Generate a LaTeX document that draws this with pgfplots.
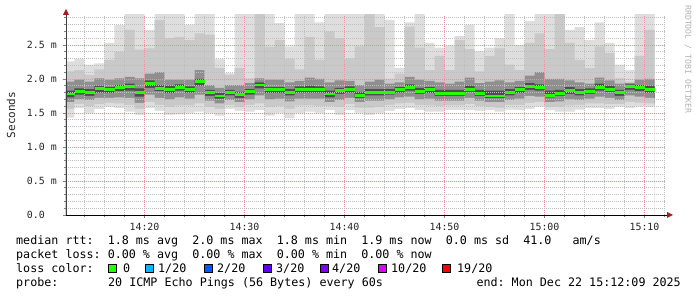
\documentclass[border=0pt]{standalone}
\usepackage{fontspec}
\setmonofont{DejaVu Sans Mono}
\usepackage{pgfplots}
\pgfplotsset{compat=1.18}
\usepackage{pgfplotstable}
\definecolor{Lone}{HTML}{DEDEDE}
\definecolor{Ltwo}{HTML}{C9C9C9}
\definecolor{Lthree}{HTML}{8F8F8F}
\definecolor{Lfour}{HTML}{4D4D4D}
\definecolor{medgreen}{RGB}{38,255,0}
\definecolor{gridred}{RGB}{230,150,150}
\definecolor{gridgray}{RGB}{190,190,190}
\definecolor{arrowred}{RGB}{160,32,32}
\definecolor{lossA}{HTML}{26FF00}
\definecolor{lossB}{HTML}{00B8FF}
\definecolor{lossC}{HTML}{0059FF}
\definecolor{lossD}{HTML}{5E00FF}
\definecolor{lossE}{HTML}{7E00FF}
\definecolor{lossF}{HTML}{DD00FF}
\definecolor{lossG}{HTML}{FF0000}
\newcommand\legfont{\ttfamily\fontsize{11.7}{14}\selectfont}
\newcommand\tickfont{\ttfamily\fontsize{9.9}{12}\selectfont}

\pgfplotstableread{
x  min  p10  p25  p40  med  p60  p75  p90  max
12 1.43 1.56 1.66 1.73 1.78 1.83 1.96 2.11 2.26
13 1.57 1.63 1.70 1.77 1.81 1.86 1.99 2.13 2.30
14 1.50 1.60 1.69 1.75 1.80 1.85 1.96 2.06 2.21
15 1.56 1.63 1.72 1.80 1.86 1.90 2.01 2.14 2.23
16 1.59 1.65 1.72 1.79 1.84 1.88 1.99 2.28 2.53
17 1.57 1.64 1.73 1.82 1.87 1.91 2.01 2.40 2.79
18 1.52 1.62 1.72 1.83 1.89 1.93 2.03 2.72 3.10
19 1.47 1.56 1.65 1.74 1.80 1.86 2.01 2.43 3.10
20 1.57 1.66 1.77 1.87 1.93 1.98 2.08 2.45 2.72
21 1.53 1.62 1.72 1.82 1.86 1.91 2.10 2.87 3.10
22 1.47 1.59 1.70 1.79 1.85 1.90 1.99 2.60 3.10
23 1.48 1.61 1.73 1.83 1.88 1.92 1.99 2.62 3.10
24 1.50 1.61 1.71 1.80 1.85 1.89 1.99 2.57 2.80
25 1.52 1.64 1.77 1.90 1.96 2.00 2.13 2.67 3.10
26 1.50 1.59 1.68 1.75 1.80 1.84 1.91 2.65 3.10
27 1.46 1.56 1.64 1.71 1.75 1.79 1.87 2.16 2.29
28 1.56 1.62 1.69 1.76 1.80 1.84 1.91 2.06 2.09
29 1.53 1.59 1.66 1.72 1.77 1.81 1.91 2.16 3.10
30 1.52 1.62 1.70 1.77 1.81 1.85 1.94 2.01 3.10
31 1.54 1.64 1.76 1.86 1.91 1.95 2.01 3.00 3.10
32 1.46 1.59 1.70 1.79 1.84 1.88 1.99 2.47 3.10
33 1.50 1.60 1.71 1.79 1.84 1.88 1.99 2.57 2.82
34 1.42 1.56 1.67 1.76 1.80 1.85 1.95 2.30 2.48
35 1.50 1.61 1.71 1.80 1.85 1.89 1.97 2.14 3.10
36 1.52 1.61 1.71 1.80 1.85 1.90 2.02 2.62 3.10
37 1.50 1.60 1.71 1.80 1.85 1.89 2.00 2.28 2.83
38 1.54 1.60 1.66 1.73 1.78 1.83 1.95 2.70 3.10
39 1.47 1.59 1.69 1.78 1.83 1.87 1.98 2.60 3.10
40 1.54 1.63 1.72 1.80 1.85 1.89 1.97 2.30 3.10
41 1.50 1.58 1.66 1.72 1.76 1.81 1.91 2.48 3.10
42 1.47 1.58 1.68 1.76 1.80 1.85 1.96 3.00 3.10
43 1.50 1.59 1.68 1.76 1.80 1.85 1.99 2.76 3.10
44 1.53 1.62 1.70 1.77 1.80 1.85 1.93 2.00 2.87
45 1.56 1.64 1.73 1.80 1.84 1.88 1.95 2.08 2.16
46 1.57 1.65 1.74 1.83 1.87 1.92 2.03 2.77 2.83
47 1.54 1.62 1.70 1.78 1.82 1.87 1.99 2.46 3.10
48 1.52 1.61 1.71 1.79 1.84 1.88 1.97 2.13 2.53
49 1.52 1.60 1.68 1.75 1.79 1.84 1.95 2.34 2.46
50 1.54 1.61 1.68 1.75 1.79 1.84 1.93 2.13 2.49
51 1.54 1.61 1.68 1.75 1.79 1.84 1.96 2.57 2.63
52 1.54 1.63 1.72 1.81 1.85 1.90 2.02 2.44 2.80
53 1.53 1.60 1.68 1.75 1.79 1.84 1.94 2.11 2.41
54 1.54 1.59 1.66 1.72 1.75 1.83 1.96 2.34 2.46
55 1.52 1.58 1.66 1.72 1.75 1.83 1.98 2.45 2.60
56 1.55 1.62 1.69 1.76 1.80 1.85 1.95 2.21 3.10
57 1.54 1.62 1.71 1.79 1.84 1.88 1.97 2.13 2.50
58 1.56 1.65 1.75 1.84 1.89 1.94 2.05 2.53 2.85
59 1.59 1.66 1.74 1.83 1.87 1.92 2.10 2.67 3.10
60 1.54 1.59 1.66 1.73 1.76 1.83 2.00 2.44 3.10
61 1.52 1.59 1.67 1.75 1.79 1.84 2.00 3.00 3.10
62 1.52 1.61 1.70 1.78 1.83 1.88 1.98 2.53 2.72
63 1.55 1.62 1.69 1.76 1.80 1.85 1.95 2.28 2.76
64 1.57 1.64 1.71 1.78 1.81 1.86 1.93 2.16 2.57
65 1.57 1.64 1.74 1.83 1.88 1.93 2.02 2.48 2.83
66 1.56 1.63 1.72 1.81 1.85 1.90 1.98 2.38 2.53
67 1.59 1.63 1.69 1.75 1.80 1.84 1.93 2.01 2.21
68 1.57 1.66 1.76 1.84 1.89 1.92 1.94 1.96 2.13
69 1.59 1.65 1.74 1.82 1.87 1.91 1.99 2.34 3.10
70 1.59 1.64 1.72 1.80 1.85 1.90 2.00 2.72 3.10
71 1.59 1.64 1.72 1.80 1.85 1.90 2.00 2.72 3.10
}\smoke

\pgfplotsset{plotbox/.style={
  at={(66pt,82pt)}, anchor=south west,
  scale only axis, width=600pt, height=200pt,
  xmin=12.15, xmax=72.15, ymin=0, ymax=2.94}}

\begin{document}
\begin{tikzpicture}[x=1pt,y=1pt]
\path[use as bounding box] (0pt,0pt) rectangle (697pt,297pt);
\begin{axis}[
  plotbox,
  axis on top,
  axis x line=bottom, axis y line=left,
  axis line style={draw=none},
  xtick={20,30,40,50,60,70},
  xticklabels={14:20,14:30,14:40,14:50,15:00,15:10},
  minor xtick={14,16,18,22,24,26,28,32,34,36,38,42,44,46,48,52,54,56,58,62,64,66,68,72},
  ytick={0,0.5,1,1.5,2,2.5},
  yticklabels={0.0\phantom{\ m},0.5 m,1.0 m,1.5 m,2.0 m,2.5 m},
  minor ytick={0.1,0.2,0.3,0.4,0.6,0.7,0.8,0.9,1.1,1.2,1.3,1.4,1.6,1.7,1.8,1.9,2.1,2.2,2.3,2.4,2.6,2.7,2.8,2.9},
  grid=both,
  major grid style={draw=gridred, dash pattern=on 1pt off 1pt, line width=0.8pt},
  minor grid style={draw=gridgray, dash pattern=on 1pt off 1pt, line width=0.8pt},
  tick align=outside, major tick length=3pt, minor tick length=2pt,
  tick style={draw=gray, line width=0.8pt},
  xticklabel style={font=\tickfont, inner sep=0pt, anchor=north, yshift=-5pt, text=black!85},
  yticklabel style={font=\tickfont, inner sep=0pt, anchor=east, xshift=-6pt, text=black!85},
]
\addplot[const plot, fill=Lone, draw=none] table[x=x,y=max]{\smoke} \closedcycle;
\addplot[const plot, fill=Ltwo, draw=none] table[x=x,y=p90]{\smoke} \closedcycle;
\addplot[const plot, fill=Lthree, draw=none] table[x=x,y=p75]{\smoke} \closedcycle;
\addplot[const plot, fill=Lfour, draw=none] table[x=x,y=p60]{\smoke} \closedcycle;
\addplot[const plot, fill=Lthree, draw=none] table[x=x,y=p40]{\smoke} \closedcycle;
\addplot[const plot, fill=Ltwo, draw=none] table[x=x,y=p25]{\smoke} \closedcycle;
\addplot[const plot, fill=Lone, draw=none] table[x=x,y=p10]{\smoke} \closedcycle;
\addplot[const plot, fill=white, draw=none] table[x=x,y=min]{\smoke} \closedcycle;
\end{axis}
\begin{axis}[plotbox, hide axis]
\addplot[jump mark left, draw=medgreen, line width=2.8pt] table[x=x,y=med]{\smoke};
\end{axis}
% axis lines with arrows
\draw[line width=0.9pt, black] (66pt,82pt) -- (668pt,82pt);
\fill[arrowred] (673pt,82pt) -- (667pt,85pt) -- (667pt,79pt) -- cycle;
\draw[line width=0.9pt, black!75] (66pt,82pt) -- (66pt,283pt);
\fill[arrowred] (66pt,288pt) -- (63pt,282pt) -- (69pt,282pt) -- cycle;
% y label
\node[rotate=90, font=\ttfamily\fontsize{11}{13}\selectfont, inner sep=0pt, text=black!85] at (11pt,182pt) {Seconds};
% watermark
\node[rotate=-90, anchor=west, font=\ttfamily\fontsize{8.2}{10}\selectfont, text=black!30, inner sep=0pt] at (688pt,292pt) {RRDTOOL / TOBI OETIKER};
% legend
\node[anchor=base west, inner sep=0pt, font=\legfont] at (16pt,52.5pt) {median rtt:\ \ 1.8 ms avg\ \ 2.0 ms max\ \ 1.8 ms min\ \ 1.9 ms now\ \ 0.0 ms sd\ \ 41.0\ \ \ am/s};
\node[anchor=base west, inner sep=0pt, font=\legfont] at (16pt,38.5pt) {packet loss: 0.00 \% avg\ \ 0.00 \% max\ \ 0.00 \% min\ \ 0.00 \% now};
\node[anchor=base west, inner sep=0pt, font=\legfont] at (16pt,24.5pt) {loss color:};
\filldraw[fill=lossA, draw=black, line width=0.8pt] (108.5pt,24.5pt) rectangle ++(8pt,8pt);
\node[anchor=base west, inner sep=0pt, font=\legfont] at (123pt,24.5pt) {0};
\filldraw[fill=lossB, draw=black, line width=0.8pt] (145.5pt,24.5pt) rectangle ++(8pt,8pt);
\node[anchor=base west, inner sep=0pt, font=\legfont] at (158pt,24.5pt) {1/20};
\filldraw[fill=lossC, draw=black, line width=0.8pt] (204.5pt,24.5pt) rectangle ++(8pt,8pt);
\node[anchor=base west, inner sep=0pt, font=\legfont] at (217pt,24.5pt) {2/20};
\filldraw[fill=lossD, draw=black, line width=0.8pt] (263.5pt,24.5pt) rectangle ++(8pt,8pt);
\node[anchor=base west, inner sep=0pt, font=\legfont] at (276pt,24.5pt) {3/20};
\filldraw[fill=lossE, draw=black, line width=0.8pt] (320.5pt,24.5pt) rectangle ++(8pt,8pt);
\node[anchor=base west, inner sep=0pt, font=\legfont] at (332pt,24.5pt) {4/20};
\filldraw[fill=lossF, draw=black, line width=0.8pt] (378.5pt,24.5pt) rectangle ++(8pt,8pt);
\node[anchor=base west, inner sep=0pt, font=\legfont] at (391pt,24.5pt) {10/20};
\filldraw[fill=lossG, draw=black, line width=0.8pt] (442.5pt,24.5pt) rectangle ++(8pt,8pt);
\node[anchor=base west, inner sep=0pt, font=\legfont] at (457pt,24.5pt) {19/20};
\node[anchor=base west, inner sep=0pt, font=\legfont] at (16pt,10.5pt) {probe:};
\node[anchor=base west, inner sep=0pt, font=\legfont] at (108pt,10.5pt) {20 ICMP Echo Pings (56 Bytes) every 60s};
\node[anchor=base east, inner sep=0pt, font=\legfont] at (681pt,10.5pt) {end: Mon Dec 22 15:12:09 2025};
\end{tikzpicture}
\end{document}
